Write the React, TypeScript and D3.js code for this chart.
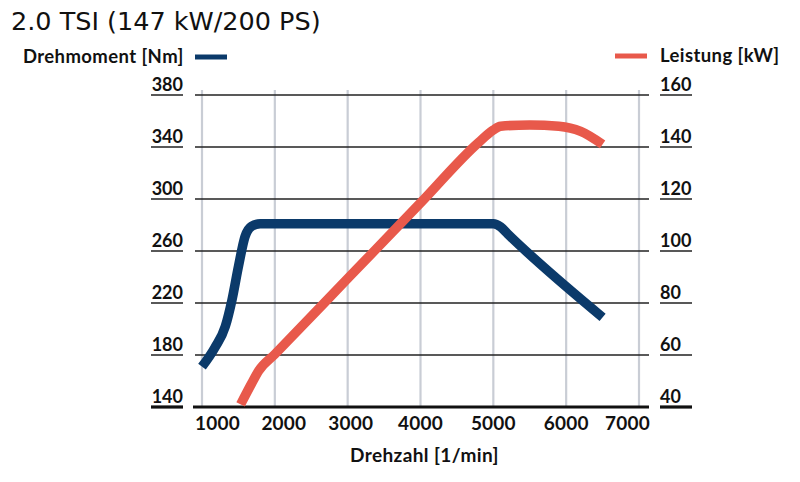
import React from "react";
import * as d3 from "d3";

const title = "2.0 TSI (147 kW/200 PS)";
const torqueLabel = "Drehmoment [Nm]";
const powerLabel = "Leistung [kW]";
const xTitle = "Drehzahl [1/min]";

const xTicks = [1000, 2000, 3000, 4000, 5000, 6000, 7000];
const leftTicks = [140, 180, 220, 260, 300, 340, 380];
const rightTicks = [40, 60, 80, 100, 120, 140, 160];

const torqueRpm = [1000, 1180, 1320, 1410, 1500, 1590, 1680, 1800, 5000, 5100, 5200, 6500];
const torqueNm = [171, 186, 202, 222, 248, 271, 279, 281, 281, 278.5, 273, 209];

const powerRpm = [1530, 1680, 1780, 2000, 3000, 4000, 4800, 5000, 5100, 5500, 5900, 6200, 6500];
const powerKw = [41, 49, 54, 60.3, 89.4, 118.5, 141.8, 146.5, 148, 148.5, 148, 146, 141];

const BLUE = "#0b3a6a";
const RED = "#e8594b";
const FONT = "Lato, 'DejaVu Sans', sans-serif";

export default function App() {
  const x = d3.scaleLinear().domain([1000, 7000]).range([202, 639]);
  const yL = d3.scaleLinear().domain([140, 380]).range([407, 95]);
  const yR = d3.scaleLinear().domain([40, 160]).range([407, 95]);
  const plotLeft = 195;
  const plotRight = 649;

  const torque = torqueRpm.map((r, i) => [r, torqueNm[i]] as [number, number]);
  const power = powerRpm.map((r, i) => [r, powerKw[i]] as [number, number]);

  const torqueLine = d3
    .line<[number, number]>()
    .x((d) => x(d[0]))
    .y((d) => yL(d[1]))
    .curve(d3.curveMonotoneX);
  const powerLine = d3
    .line<[number, number]>()
    .x((d) => x(d[0]))
    .y((d) => yR(d[1]))
    .curve(d3.curveMonotoneX);

  return (
    <svg
      width={800}
      height={482}
      style={{ position: "absolute", left: 0, top: 0, background: "#fff" }}
    >
      <text x={11} y={30} fontFamily="'DejaVu Sans', sans-serif" fontSize={25.5} fill="#111">
        {title}
      </text>

      {/* legends */}
      <text x={23} y={63} fontFamily={FONT} fontWeight={700} fontSize={18.5} letterSpacing={0.4} fill="#111">
        {torqueLabel}
      </text>
      <line x1={195} x2={227} y1={57} y2={57} stroke={BLUE} strokeWidth={5} />
      <line x1={615} x2={647} y1={56} y2={56} stroke={RED} strokeWidth={5} />
      <text x={660} y={62} fontFamily={FONT} fontWeight={700} fontSize={18.5} letterSpacing={0.4} fill="#111">
        {powerLabel}
      </text>

      {/* vertical grid */}
      {xTicks.map((t) => (
        <line key={"vg" + t} x1={x(t)} x2={x(t)} y1={90} y2={407} stroke="#c9cdd5" strokeWidth={2.2} />
      ))}
      {/* horizontal grid */}
      {leftTicks.slice(1).map((t) => (
        <line key={"hg" + t} x1={plotLeft} x2={plotRight} y1={yL(t)} y2={yL(t)} stroke="#222" strokeWidth={1.3} />
      ))}
      <line x1={193} x2={plotRight} y1={yL(140)} y2={yL(140)} stroke="#111" strokeWidth={3.2} />

      {/* left axis labels */}
      {leftTicks.map((t, i) => (
        <g key={"lt" + t}>
          <text x={183} y={yL(t) - 4.5} textAnchor="end" fontFamily={FONT} fontWeight={700} fontSize={18} fill="#111">
            {t}
          </text>
          <line x1={151} x2={183} y1={yL(t)} y2={yL(t)} stroke="#111" strokeWidth={i === 0 ? 3.2 : 1.4} />
        </g>
      ))}
      {/* right axis labels */}
      {rightTicks.map((t, i) => (
        <g key={"rt" + t}>
          <text x={660} y={yR(t) - 4.5} textAnchor="start" fontFamily={FONT} fontWeight={700} fontSize={18} fill="#111">
            {t}
          </text>
          <line x1={660} x2={692} y1={yR(t)} y2={yR(t)} stroke="#111" strokeWidth={i === 0 ? 3.2 : 1.4} />
        </g>
      ))}

      {/* bottom labels */}
      {xTicks.map((t, i) => {
        const last = i === xTicks.length - 1;
        const first = i === 0;
        return (
          <text
            key={"xt" + t}
            x={first ? plotLeft : last ? plotRight + 1 : x(t) + (i === 1 ? 9 : i === 2 ? 3 : 0)}
            y={430}
            textAnchor={first ? "start" : last ? "end" : "middle"}
            fontFamily={FONT}
            fontWeight={700}
            fontSize={19}
            letterSpacing={0.2}
            fill="#111"
          >
            {t}
          </text>
        );
      })}
      <text x={424.5} y={462} textAnchor="middle" fontFamily={FONT} fontWeight={700} fontSize={19} letterSpacing={0.4} fill="#111">
        {xTitle}
      </text>

      {/* curves */}
      <path d={torqueLine(torque) || ""} fill="none" stroke={BLUE} strokeWidth={9.5} strokeLinejoin="round" />
      <path d={powerLine(power) || ""} fill="none" stroke={RED} strokeWidth={9.5} strokeLinejoin="round" />
    </svg>
  );
}
